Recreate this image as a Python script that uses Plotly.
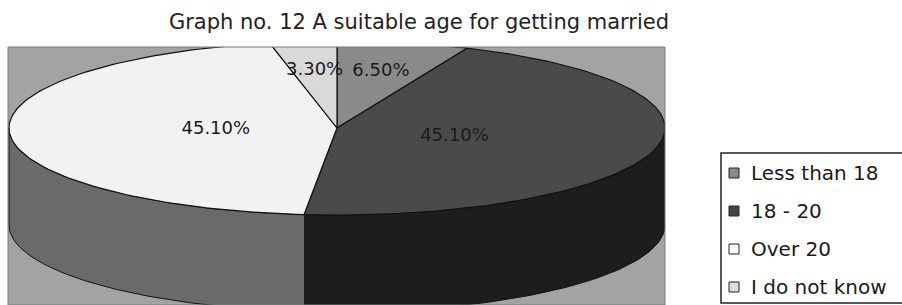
import numpy as np
import plotly.graph_objects as go

# ---- data ----
title = "Graph no. 12 A suitable age for getting married"
categories = ["Less than 18", "18 - 20", "Over 20", "I do not know"]
shares = [6.5, 45.1, 45.1, 3.3]
labels = ["6.50%", "45.10%", "45.10%", "3.30%"]

# ---- style ----
top_colors = ["#8a8a8a", "#4a4a4a", "#f2f2f2", "#d9d9d9"]
side_colors = ["#5e5e5e", "#1d1d1d", "#6a6a6a", "#9a9a9a"]
legend_colors = ["#8a8a8a", "#444444", "#ffffff", "#dcdcdc"]
label_radius = [0.66, 0.37, 0.37, 0.66]
FONT = "DejaVu Sans"

# geometry of the tilted pie (in plot units = pixels)
cx, cy, rx, ry, depth = 337.0, 128.0, 328.0, 87.0, 97.0
X0, X1, Y0, Y1 = 8, 665, 47, 305
# legend box geometry (pixels)
LEG_LEFT, LEG_TOP, LEG_BOTTOM = 721, 153, 303
LEG_ROW0, LEG_ROWSTEP = 173, 38


def ex(t):
    return cx + rx * np.sin(np.radians(t))


def ey(t):
    return cy - ry * np.cos(np.radians(t))


total = float(sum(shares))
bounds = np.concatenate([[0.0], np.cumsum(shares) / total * 360.0])

fig = go.Figure()

# side walls (visible front half: 90..270 deg clockwise from top)
for i in range(len(shares)):
    a0, a1 = max(bounds[i], 90.0), min(bounds[i + 1], 270.0)
    if a1 <= a0:
        continue
    t = np.linspace(a0, a1, 80)
    xs = np.concatenate([ex(t), ex(t[::-1])])
    ys = np.concatenate([ey(t), ey(t[::-1]) + depth])
    fig.add_trace(go.Scatter(x=xs, y=ys, mode="lines", fill="toself",
                             fillcolor=side_colors[i],
                             line=dict(color="#111111", width=1),
                             hoverinfo="skip", showlegend=False))

# top faces
for i in range(len(shares)):
    t = np.linspace(bounds[i], bounds[i + 1], 120)
    xs = np.concatenate([[cx], ex(t), [cx]])
    ys = np.concatenate([[cy], ey(t), [cy]])
    fig.add_trace(go.Scatter(x=xs, y=ys, mode="lines", fill="toself",
                             fillcolor=top_colors[i], name=categories[i],
                             line=dict(color="#111111", width=1.2),
                             hoverinfo="name", showlegend=False))

# percentage labels
mids = (bounds[:-1] + bounds[1:]) / 2.0
lx = [cx + rx * r * np.sin(np.radians(m)) for m, r in zip(mids, label_radius)]
ly = [cy - ry * r * np.cos(np.radians(m)) for m, r in zip(mids, label_radius)]
fig.add_trace(go.Scatter(x=lx, y=ly, mode="text", text=labels,
                         textposition="middle center",
                         textfont=dict(family=FONT, size=18, color="#1a1a1a"),
                         hoverinfo="skip", showlegend=False, cliponaxis=False))

W, H = 902, 305
pw, ph = X1 - X0, Y1 - Y0


def px(v):
    return (v - X0) / pw


def py(v):
    return (Y1 - v) / ph


box_path = (f"M {px(905):.5f},{py(LEG_TOP):.5f} L {px(LEG_LEFT):.5f},{py(LEG_TOP):.5f} "
            f"L {px(LEG_LEFT):.5f},{py(LEG_BOTTOM):.5f} L {px(905):.5f},{py(LEG_BOTTOM):.5f}")

shapes = [
    dict(type="rect", xref="paper", yref="paper", x0=0, x1=1, y0=0, y1=1,
         line=dict(color="#7a7a7a", width=1), layer="above"),
    dict(type="path", xref="paper", yref="paper", path=box_path,
         line=dict(color="#222222", width=1.5)),
]
annotations = []
for i, name in enumerate(categories):
    yc = LEG_ROW0 + i * LEG_ROWSTEP
    shapes.append(dict(type="rect", xref="paper", yref="paper",
                       x0=px(729), x1=px(739), y0=py(yc + 5), y1=py(yc - 5),
                       fillcolor=legend_colors[i],
                       line=dict(color="#222222", width=1)))
    annotations.append(dict(text=name, xref="paper", yref="paper",
                            x=px(749), y=py(yc), xanchor="left",
                            yanchor="middle", showarrow=False,
                            font=dict(family=FONT, size=20, color="#1a1a1a")))

fig.update_layout(
    width=W, height=H,
    margin=dict(l=X0, r=W - X1, t=Y0, b=H - Y1, pad=0, autoexpand=False),
    paper_bgcolor="white",
    plot_bgcolor="#a3a3a3",
    xaxis=dict(range=[X0, X1], visible=False, fixedrange=True),
    yaxis=dict(range=[Y1, Y0], visible=False, fixedrange=True),
    title=dict(text=title, x=419 / W, xanchor="center", xref="container",
               y=1 - 22 / H, yanchor="middle", yref="container",
               font=dict(family=FONT, size=21, color="#222222")),
    showlegend=False,
    shapes=shapes,
    annotations=annotations,
)

fig.write_html(
    "out.html",
    config={"displayModeBar": False},
    post_script="document.body.style.margin='0';"
                "document.body.style.overflow='hidden';",
)
